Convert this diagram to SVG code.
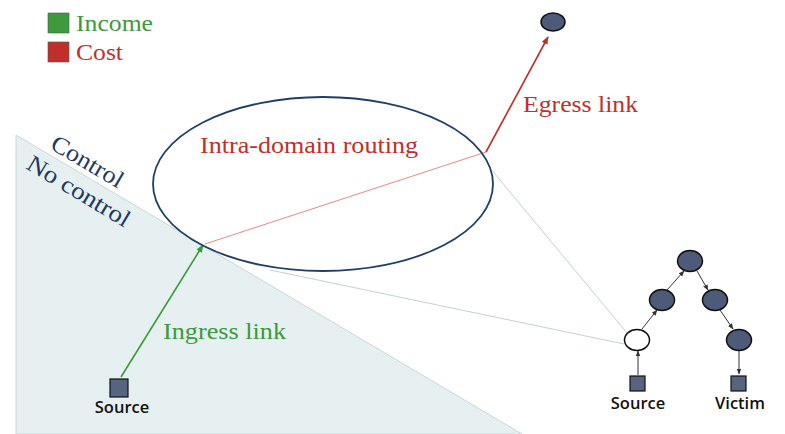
<svg xmlns="http://www.w3.org/2000/svg" width="785" height="434" viewBox="0 0 785 434">
  <defs>
    <style>
      .serif { font-family: "Liberation Serif", "Times New Roman", serif; }
      .sans { font-family: "Open Sans", "Liberation Sans", sans-serif; font-size: 16.5px; font-weight: 600; fill: #111; text-anchor: middle; }
      .node { fill: #4d5b78; stroke: #111; stroke-width: 1.5; }
      .box { fill: #56647f; stroke: #111; stroke-width: 1.2; }
      .edge { stroke: #333; stroke-width: 1; fill: none; }
      .zoom { stroke: #c4cfd6; stroke-width: 1; fill: none; }
    </style>
    <marker id="ah-dark" viewBox="0 0 10 10" refX="9" refY="5" markerWidth="6" markerHeight="6" orient="auto">
      <path d="M0,1 L10,5 L0,9 z" fill="#333"/>
    </marker>
    <marker id="ah-red" viewBox="0 0 10 10" refX="9" refY="5" markerWidth="5" markerHeight="5" orient="auto">
      <path d="M0,1 L10,5 L0,9 z" fill="#c0302a"/>
    </marker>
    <marker id="ah-green" viewBox="0 0 10 10" refX="9" refY="5" markerWidth="5" markerHeight="5" orient="auto">
      <path d="M0,1 L10,5 L0,9 z" fill="#3a9a3a"/>
    </marker>
  </defs>

  <rect width="785" height="434" fill="#fff"/>

  <!-- uncontrolled region -->
  <polygon points="16,135 522,434 16,434" fill="#e7f0f1" stroke="#c9d6da" stroke-width="1"/>
  <text class="serif" font-size="24" fill="#1f3a5f" textLength="80" lengthAdjust="spacingAndGlyphs" transform="translate(49,148) rotate(30.5)">Control</text>
  <text class="serif" font-size="24" fill="#1f3a5f" textLength="116" lengthAdjust="spacingAndGlyphs" transform="translate(25,168) rotate(31)">No control</text>

  <!-- legend -->
  <g id="legend">
    <rect x="48" y="13" width="21" height="20" fill="#3d9a3d" stroke="#555" stroke-width="0.6"/>
    <text class="serif" x="76" y="31" font-size="23" fill="#3d9a3d" textLength="77" lengthAdjust="spacingAndGlyphs">Income</text>
    <rect x="48" y="42" width="21" height="20" fill="#c0302a" stroke="#555" stroke-width="0.6"/>
    <text class="serif" x="76" y="60" font-size="23" fill="#c0302a" textLength="47" lengthAdjust="spacingAndGlyphs">Cost</text>
  </g>

  <!-- connectors -->
  <g id="connectors">
    <line class="zoom" x1="490" y1="168" x2="628" y2="334"/>
    <line class="zoom" x1="270" y1="270" x2="624" y2="344"/>
    <line x1="205" y1="244" x2="486" y2="152" stroke="#e58a86" stroke-width="1"/>
    <line x1="486" y1="152" x2="548" y2="37" stroke="#c0302a" stroke-width="1.6" marker-end="url(#ah-red)"/>
    <line x1="121" y1="377" x2="203" y2="245" stroke="#3a9a3a" stroke-width="1.6" marker-end="url(#ah-green)"/>
    <line class="edge" x1="638" y1="375" x2="638" y2="351" marker-end="url(#ah-dark)"/>
    <line class="edge" x1="642" y1="329" x2="657" y2="310" marker-end="url(#ah-dark)"/>
    <line class="edge" x1="667" y1="290" x2="684" y2="271" marker-end="url(#ah-dark)"/>
    <line class="edge" x1="697" y1="271" x2="708" y2="290" marker-end="url(#ah-dark)"/>
    <line class="edge" x1="720" y1="310" x2="733" y2="329" marker-end="url(#ah-dark)"/>
    <line class="edge" x1="739" y1="350" x2="739" y2="374" marker-end="url(#ah-dark)"/>
  </g>

  <!-- intra-domain routing ellipse -->
  <g id="domain">
    <ellipse cx="323" cy="184" rx="170" ry="87" fill="none" stroke="#1f3f66" stroke-width="1.8"/>
    <text class="serif" x="200" y="153" font-size="24" fill="#c0302a" textLength="218" lengthAdjust="spacingAndGlyphs">Intra-domain routing</text>
  </g>

  <g id="egress-label"><text class="serif" x="523" y="112" font-size="24" fill="#c0302a" textLength="115" lengthAdjust="spacingAndGlyphs">Egress link</text></g>
  <g id="ingress-label"><text class="serif" x="163" y="339" font-size="24" fill="#3a9a3a" textLength="123" lengthAdjust="spacingAndGlyphs">Ingress link</text></g>

  <g id="egress-node"><ellipse class="node" cx="553" cy="22" rx="12" ry="9"/></g>

  <g id="source-left">
    <rect class="box" x="110" y="379" width="18" height="18"/>
    <text class="sans" x="122" y="413">Source</text>
  </g>

  <!-- attack tree -->
  <g id="n-top"><ellipse class="node" cx="690" cy="261" rx="12.5" ry="10.5"/></g>
  <g id="n-left"><ellipse class="node" cx="662" cy="300" rx="12.5" ry="10.5"/></g>
  <g id="n-right"><ellipse class="node" cx="715" cy="300" rx="12.5" ry="10.5"/></g>
  <g id="n-entry"><ellipse cx="637" cy="340" rx="12.5" ry="10.5" fill="#fff" stroke="#111" stroke-width="1.5"/></g>
  <g id="n-last"><ellipse class="node" cx="739" cy="340" rx="12.5" ry="10.5"/></g>
  <g id="source-right">
    <rect class="box" x="630" y="376" width="15" height="15"/>
    <text class="sans" x="638" y="409">Source</text>
  </g>
  <g id="victim">
    <rect class="box" x="731" y="376" width="15" height="15"/>
    <text class="sans" x="740" y="409">Victim</text>
  </g>
</svg>
